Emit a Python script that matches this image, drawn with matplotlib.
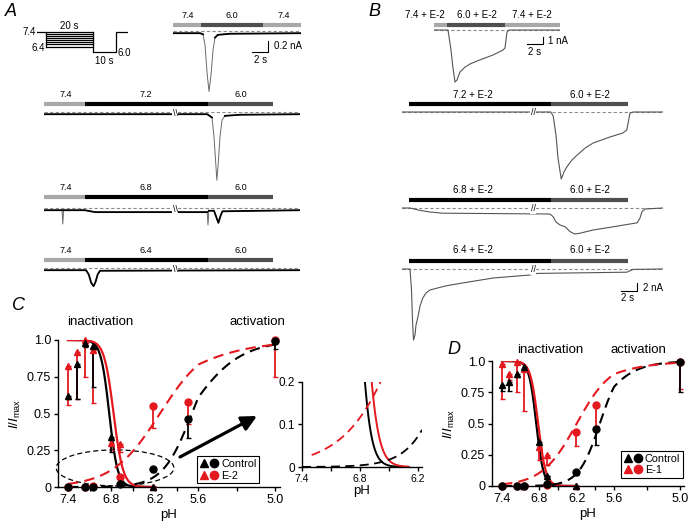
import numpy as np
import matplotlib.pyplot as plt
from matplotlib.patches import Ellipse
from matplotlib.lines import Line2D
from matplotlib.legend_handler import HandlerTuple

plt.rcParams['font.family'] = ['Liberation Sans', 'DejaVu Sans']
plt.rcParams['mathtext.fontset'] = 'custom'
plt.rcParams['mathtext.rm'] = 'Liberation Sans'
plt.rcParams['mathtext.it'] = 'Liberation Sans:italic'

W, H = 688, 525
LIGHT = '#a8a8a8'
DARK = '#4f4f4f'
RED = '#e3191f'
TRACE = '#555555'

# ---------------- data: protocol (s, pH)
prot_cond = [7.4, 7.26, 7.11, 6.97, 6.83, 6.69, 6.54, 6.4]
prot_test = 6.0

# ---------------- data: panel A traces (time s, current nA)
a1_t = [0, 3.4, 3.75, 4.0, 4.25, 4.5, 4.75, 5.0, 5.25, 5.6, 7.1, 16.0]
a1_i = [-0.04, -0.04, -0.06, -0.25, -0.75, -1.1, -0.8, -0.35, -0.12, -0.07, -0.05, -0.04]
a2_t = [0, 20.4, 21.0, 21.25, 21.5, 21.6, 21.75, 22.0, 22.25, 22.6, 24.5, 32]
a2_i = [-0.04, -0.04, -0.1, -0.45, -1.0, -1.24, -1.0, -0.45, -0.15, -0.07, -0.05, -0.04]
a3_t = [0, 2.25, 2.35, 2.45, 5.1, 6.4, 20.4, 20.5, 20.6, 21.25, 21.5, 21.8, 22.05, 22.3, 32]
a3_i = [-0.04, -0.04, -0.29, -0.04, -0.04, -0.075, -0.075, -0.31, -0.05, -0.05, -0.15, -0.27, -0.15, -0.06, -0.04]
a4_t = [0, 5.25, 5.6, 5.9, 6.2, 6.45, 6.7, 7.0, 32]
a4_i = [-0.04, -0.04, -0.12, -0.27, -0.33, -0.25, -0.12, -0.05, -0.04]

# ---------------- data: panel B traces (time s, current nA)
b1_t = [0, 1.75, 2.125, 2.375, 2.625, 2.875, 3.25, 3.875, 4.5, 5.375, 6.375, 7.375, 8.625, 8.875, 9.125, 9.375, 15.75]
b1_i = [0, 0, -2.86, -5.43, -7.43, -7.14, -6.0, -5.29, -4.86, -4.43, -4.0, -3.57, -2.86, -2.57, -0.29, 0, 0]
b2_t = [0, 18.6, 18.9, 19.25, 19.5, 19.9, 20.25, 20.6, 21.25, 21.9, 22.9, 23.9, 26.0, 27.6, 28.1, 28.5, 28.9, 32.6]
b2_i = [0, 0, -1, -5.75, -11.5, -16.75, -15, -13.75, -12, -10.75, -9, -7.75, -6.25, -5.25, -4.5, -0.25, 0, 0]
b3_t = [0, 1.0, 2.25, 3.5, 5.1, 18.5, 18.9, 19.25, 19.75, 20.4, 21.0, 21.6, 22.25, 23.9, 26.4, 29.4, 29.75, 30.0, 30.4, 32.6]
b3_i = [0, 0, -0.6, -1.0, -1.3, -1.5, -2.2, -3.5, -4.25, -4.7, -5.9, -6.5, -6.3, -5.5, -4.7, -3.7, -2.5, -0.9, -0.25, 0]
b4_t = [0, 1.0, 1.19, 1.31, 1.44, 1.625, 1.75, 2.0, 2.25, 2.6, 3.0, 3.5, 5.4, 7.25, 11.4, 16.0, 16.9, 28.1, 28.9, 32.6]
b4_i = [0, 0, -5.25, -12.75, -17.75, -16.5, -14, -11.9, -9.25, -7.25, -6, -5.25, -4.25, -3.6, -2.25, -1.5, -1.1, -0.8, -0.1, 0]

# ---------------- data: panels C / D
ph_inact = [7.4, 7.28, 7.16, 7.05, 6.8, 6.68, 6.22]
c_ph_act = [7.4, 7.16, 7.05, 6.68, 6.22, 5.74, 5.0]
d_ph_act = [7.4, 7.16, 7.05, 6.68, 6.22, 5.89, 5.0]

c_ctrl_inact = [0.62, 0.84, 0.98, 0.96, 0.34, 0.03, 0.0]
c_ctrl_inact_err = [0.02, 0.24, 0.03, 0.28, 0.10, 0.0, 0.0]
c_e2_inact = [0.82, 0.92, 1.0, 0.93, 0.30, 0.29, 0.0]
c_e2_inact_err = [0.26, 0.32, 0.25, 0.36, 0.05, 0.05, 0.0]
c_ctrl_act = [0.0, 0.0, 0.0, 0.02, 0.12, 0.46, 0.99]
c_ctrl_act_err = [0.0, 0.0, 0.0, 0.0, 0.02, 0.13, 0.05]
c_e2_act = [0.0, 0.0, 0.01, 0.07, 0.55, 0.58, 1.0]
c_e2_act_err = [0.0, 0.0, 0.0, 0.0, 0.15, 0.15, 0.25]

d_ctrl_inact = [0.81, 0.83, 0.90, 0.95, 0.35, 0.08, 0.0]
d_ctrl_inact_err = [0.05, 0.07, 0.03, 0.03, 0.05, 0.0, 0.0]
d_e1_inact = [0.98, 0.90, 0.99, 0.94, 0.31, 0.25, 0.0]
d_e1_inact_err = [0.28, 0.05, 0.24, 0.34, 0.10, 0.08, 0.0]
d_ctrl_act = [0.0, 0.0, 0.0, 0.02, 0.11, 0.46, 0.99]
d_ctrl_act_err = [0.0, 0.0, 0.0, 0.0, 0.02, 0.13, 0.24]
d_e1_act = [0.0, 0.0, 0.0, 0.01, 0.43, 0.65, 0.99]
d_e1_act_err = [0.0, 0.0, 0.0, 0.0, 0.11, 0.17, 0.21]

# Boltzmann fit parameters (pH50, slope)
c_fit = {'ctrl_inact': (6.83, 0.058), 'e_inact': (6.77, 0.065),
         'ctrl_act': (5.69, 0.2), 'e_act': (6.13, 0.33)}
d_fit = {'ctrl_inact': (6.85, 0.058), 'e_inact': (6.82, 0.062),
         'ctrl_act': (5.83, 0.17), 'e_act': (6.2, 0.28)}

ph_ticks = [7.4, 6.8, 6.2, 5.6, 5.0]


def box(x0, y0, x1, y1):
    return [x0 / W, 1 - y1 / H, (x1 - x0) / W, (y1 - y0) / H]


fig = plt.figure(figsize=(6.88, 5.25), dpi=100)


def trace_axes(x0, x1, zero_y, px_per_nA, top=40, bottom=80):
    ax = fig.add_axes(box(x0, zero_y - top, x1, zero_y + bottom))
    ax.set_xlim(0, (x1 - x0) / 8.0)
    ax.set_ylim(-bottom / px_per_nA, top / px_per_nA)
    ax.axis('off')
    return ax


def bars(ax, segs, y):
    for t0, t1, c in segs:
        ax.plot([t0, t1], [y, y], color=c, lw=3.0, solid_capstyle='butt')


def labels(ax, items, y, fs=7):
    for t, s in items:
        ax.text(t, y, s, ha='center', va='center', fontsize=fs)


def zero_line(ax, t1):
    ax.plot([0, t1], [0, 0], color='#8c8c8c', lw=0.8, ls=(0, (3, 2)))


def a_trace(ax, t, i, thr):
    t = np.array(t); i = np.array(i)
    ax.plot(t, i, color='#6a6a6a', lw=0.7)
    ax.plot(t, np.where(np.abs(i) < thr, i, np.nan), color='k', lw=1.3)


def brk(ax, t, y, s):
    ax.text(t, y, s, ha='center', va='center', fontsize=6.5,
            bbox=dict(fc='white', ec='none', pad=0.2))


# ---------------- panel A
fig.text(5 / W, 1 - 12 / H, 'A', fontsize=13, style='italic', va='center')

pax = fig.add_axes(box(37, 25, 128, 60))
pax.axis('off')
pax.set_xlim(0, 39)
pax.set_ylim(7.4 - 28 / 14.5, 7.4 + 7 / 14.5)
for lvl in prot_cond:
    pax.plot([4, 24], [lvl, lvl], color='k', lw=0.9)
pax.plot([0, 4, 4], [7.4, 7.4, min(prot_cond)], color='k', lw=0.9)
pax.plot([24, 24, 34, 34, 39], [7.4, prot_test, prot_test, 7.4, 7.4], color='k', lw=0.9)
pax.text(-0.4, 7.4, '7.4', ha='right', va='center', fontsize=7)
pax.text(3.4, 6.3, '6.4', ha='right', va='center', fontsize=7)
pax.text(14, 7.82, '20 s', ha='center', va='center', fontsize=7)
pax.text(29, 5.37, '10 s', ha='center', va='center', fontsize=7)
pax.text(34.6, 5.97, '6.0', ha='left', va='center', fontsize=7)

ax = trace_axes(173, 301, 31, 55.0, top=25, bottom=70)
zero_line(ax, 16)
bars(ax, [(0, 3.5, LIGHT), (3.5, 11.25, DARK), (11.25, 16, LIGHT)], 0.11)
labels(ax, [(1.9, '7.4'), (7.4, '6.0'), (13.9, '7.4')], 0.29, fs=6.5)
a_trace(ax, a1_t, a1_i, 0.15)
ax.plot([9.9, 11.9, 11.9], [-0.38, -0.38, -0.18], color='k', lw=0.8)
ax.text(12.6, -0.27, '0.2 nA', ha='left', va='center', fontsize=7)
ax.text(10.9, -0.53, '2 s', ha='center', va='center', fontsize=7)

bar_segs_a = [(0, 5.1, LIGHT), (5.1, 20.5, 'k'), (20.5, 28.6, DARK)]
for zero_y, cond, tr_t, tr_i, thr, bar_y, lab_y in [
        (112, '7.2', a2_t, a2_i, 0.15, 0.145, 0.31),
        (208, '6.8', a3_t, a3_i, 0.28, 0.2, 0.38),
        (268, '6.4', a4_t, a4_i, 0.4, 0.145, 0.31)]:
    ax = trace_axes(44, 300, zero_y, 55.0, top=25, bottom=72)
    zero_line(ax, 32)
    bars(ax, bar_segs_a, bar_y)
    labels(ax, [(2.75, '7.4'), (12.75, cond), (24.6, '6.0')], lab_y, fs=6.5)
    a_trace(ax, tr_t, tr_i, thr)
    brk(ax, 16.4, -0.02, '\\\\')

# ---------------- panel B
fig.text(368 / W, 1 - 11 / H, 'B', fontsize=13, style='italic', va='center')

ax = trace_axes(434, 560, 30, 7.0, top=25, bottom=60)
zero_line(ax, 15.75)
bars(ax, [(0, 1.625, LIGHT), (1.625, 8.875, DARK), (8.875, 15.75, LIGHT)], 0.71)
labels(ax, [(-1.1, '7.4 + E-2'), (5.4, '6.0 + E-2'), (12.25, '7.4 + E-2')], 2.14)
ax.plot(b1_t, b1_i, color=TRACE, lw=0.8)
ax.plot([11.6, 13.6, 13.6], [-2.0, -2.0, -1.0], color='k', lw=0.8)
ax.text(14.3, -1.57, '1 nA', ha='left', va='center', fontsize=7)
ax.text(12.6, -3.14, '2 s', ha='center', va='center', fontsize=7)

bar_segs_b = [(0.875, 18.6, 'k'), (18.6, 28.25, DARK)]
b_axes = []
for zero_y, cond, tr_t, tr_i, bar_y, lab_y in [
        (112, '7.2 + E-2', b2_t, b2_i, 2.0, 4.25),
        (208, '6.8 + E-2', b3_t, b3_i, 2.1, 4.5),
        (269, '6.4 + E-2', b4_t, b4_i, 2.0, 4.75)]:
    ax = trace_axes(402, 663, zero_y, 4.0, top=25, bottom=75)
    zero_line(ax, 32.6)
    bars(ax, bar_segs_b, bar_y)
    labels(ax, [(8.9, cond), (23.5, '6.0 + E-2')], lab_y)
    ax.plot(tr_t, tr_i, color=TRACE, lw=0.8)
    brk(ax, 16.4, -0.2, '//')
    b_axes.append(ax)
ax = b_axes[-1]
ax.plot([27.4, 29.4, 29.4], [-5.5, -5.5, -3.5], color='k', lw=0.8)
ax.text(30.1, -4.75, '2 nA', ha='left', va='center', fontsize=7)
ax.text(28.25, -7.25, '2 s', ha='center', va='center', fontsize=7)

# ---------------- pH scale (tick spacing as in the figure)
sc_ph = np.array([8.6, 7.4, 6.8, 6.2, 5.6, 5.0, 4.4])
sc_pos = np.array([-0.42, 0.0, 0.21, 0.42, 0.63, 1.0, 1.37])


def fwd(x):
    return -np.interp(-np.asarray(x, float), -sc_ph, sc_pos)


def inv(y):
    return -np.interp(-np.asarray(y, float), sc_pos, -sc_ph)


def boltz_inact(ph, p):
    return 1.0 / (1.0 + np.exp((p[0] - ph) / p[1]))


def boltz_act(ph, p):
    return 1.0 / (1.0 + np.exp((ph - p[0]) / p[1]))


def style_ax(ax, fs=9):
    for s in ('top', 'right'):
        ax.spines[s].set_visible(False)
    for s in ('left', 'bottom'):
        ax.spines[s].set_linewidth(1.0)
    ax.tick_params(direction='out', length=3, width=1.0, labelsize=fs, pad=2)


def pts(ax, x, y, err, color, marker):
    low = np.array(err)
    ax.errorbar(x, y, yerr=[low, np.zeros_like(low)], fmt='none', ecolor=color,
                elinewidth=1.3, capsize=1.8, capthick=1.0, clip_on=False, zorder=3)
    ax.plot(x, y, marker, color=color, ms=5, ls='none', clip_on=False, zorder=4)


def sigmoid_panel(rect, xl, ph_act, data, fit, ecolor):
    ax = fig.add_axes(rect)
    ax.set_xscale('function', functions=(fwd, inv))
    ax.set_xlim(*xl)
    ax.set_ylim(0, 1.0)
    style_ax(ax)
    ph_i = np.linspace(7.4, 6.2, 200)
    ph_a = np.linspace(7.4, 5.0, 300)
    ax.plot(ph_i, boltz_inact(ph_i, fit['ctrl_inact']), color='k', lw=1.6)
    ax.plot(ph_i, boltz_inact(ph_i, fit['e_inact']), color=ecolor, lw=1.6)
    ax.plot(ph_a, boltz_act(ph_a, fit['ctrl_act']), color='k', lw=1.5, ls=(0, (5, 3)))
    ax.plot(ph_a, boltz_act(ph_a, fit['e_act']), color=ecolor, lw=1.5, ls=(0, (5, 3)))
    ci, cie, ei, eie, ca, cae, ea, eae = data
    pts(ax, ph_act, ea, eae, ecolor, 'o')
    pts(ax, ph_act, ca, cae, 'k', 'o')
    pts(ax, ph_inact, ei, eie, ecolor, '^')
    pts(ax, ph_inact, ci, cie, 'k', '^')
    ax.set_xticks(ph_ticks)
    ax.set_xticklabels(['%.1f' % v for v in ph_ticks])
    ax.set_xticks([7.1, 6.5, 5.9, 5.3], minor=True)
    ax.tick_params(which='minor', direction='out', length=3, width=1.0)
    ax.set_yticks([0, 0.25, 0.5, 0.75, 1.0])
    ax.set_yticklabels(['0', '0.25', '0.5', '0.75', '1.0'])
    ax.set_xlabel('pH', fontsize=9.5, labelpad=2)
    ax.set_ylabel(r'$I/I_{\rm max}$', fontsize=9.5, labelpad=3)
    return ax


def legend(ax, elabel, anchor, loc):
    h1 = (Line2D([], [], marker='^', color='k', ls='none', ms=6),
          Line2D([], [], marker='o', color='k', ls='none', ms=6))
    h2 = (Line2D([], [], marker='^', color=RED, ls='none', ms=6),
          Line2D([], [], marker='o', color=RED, ls='none', ms=6))
    lg = ax.legend([h1, h2], ['Control', elabel], loc=loc, bbox_to_anchor=anchor,
                   handler_map={tuple: HandlerTuple(ndivide=None, pad=0.1)},
                   fontsize=7.8, frameon=True, fancybox=False, framealpha=1,
                   edgecolor='k', handlelength=1.8, handletextpad=0.2,
                   borderpad=0.25, labelspacing=0.15, borderaxespad=0)
    lg.get_frame().set_linewidth(0.8)


# ---------------- panel C
fig.text(12 / W, 1 - 305 / H, 'C', fontsize=13, style='italic', va='center')
fig.text(100 / W, 1 - 322 / H, 'inactivation', fontsize=9.5, ha='center', va='center')
fig.text(257 / W, 1 - 322 / H, 'activation', fontsize=9.5, ha='center', va='center')
cax = sigmoid_panel(box(58, 340, 280, 487), (7.537, 4.961), c_ph_act,
                    (c_ctrl_inact, c_ctrl_inact_err, c_e2_inact, c_e2_inact_err,
                     c_ctrl_act, c_ctrl_act_err, c_e2_act, c_e2_act_err), c_fit, RED)
legend(cax, 'E-2', (0.625, 0.025), 'lower left')
cax.add_patch(Ellipse((0.257, 0.13), 0.53, 0.245, transform=cax.transAxes,
                      fill=False, ec='k', lw=0.9, ls=(0, (4, 2.5)), clip_on=False))
cax.annotate('', xy=(257 / W, 1 - 416 / H), xytext=(180 / W, 1 - 457 / H),
             xycoords='figure fraction', textcoords='figure fraction',
             arrowprops=dict(arrowstyle='-|>,head_length=0.9,head_width=0.45',
                             color='k', lw=2.3, shrinkA=0, shrinkB=0))

iax = fig.add_axes(box(302, 381.7, 422, 467))
style_ax(iax, fs=8.5)
iax.set_xlim(7.4, 6.16)
iax.set_ylim(0, 0.2)
ph_z = np.linspace(7.4, 6.16, 200)
ph_zi = np.linspace(6.9, 6.3, 100)
iax.plot(ph_zi, boltz_inact(ph_zi, c_fit['ctrl_inact']), color='k', lw=1.4)
iax.plot(ph_zi, boltz_inact(ph_zi, c_fit['e_inact']), color=RED, lw=1.4)
iax.plot(ph_z, boltz_act(ph_z, c_fit['ctrl_act']), color='k', lw=1.3, ls=(0, (5, 3)))
ph_ze = np.linspace(7.3, 6.16, 150)
iax.plot(ph_ze, boltz_act(ph_ze, c_fit['e_act']), color=RED, lw=1.3, ls=(0, (5, 3)))
iax.set_xticks([7.4, 6.8, 6.2])
iax.set_xticklabels(['7.4', '6.8', '6.2'], fontsize=7.5)
iax.set_xticks([7.1, 6.5], minor=True)
iax.tick_params(which='minor', direction='out', length=3, width=1.0)
iax.set_yticks([0, 0.1, 0.2])
iax.set_yticklabels(['0', '0.1', '0.2'])
iax.set_xlabel('pH', fontsize=9.5, labelpad=1)

# ---------------- panel D
fig.text(447 / W, 1 - 350 / H, 'D', fontsize=13, style='italic', va='center')
fig.text(550 / W, 1 - 350 / H, 'inactivation', fontsize=9.5, ha='center', va='center')
fig.text(638 / W, 1 - 350 / H, 'activation', fontsize=9.5, ha='center', va='center')
dax = sigmoid_panel(box(492, 361, 684, 486), (7.56, 4.964), d_ph_act,
                    (d_ctrl_inact, d_ctrl_inact_err, d_e1_inact, d_e1_inact_err,
                     d_ctrl_act, d_ctrl_act_err, d_e1_act, d_e1_act_err), d_fit, RED)
legend(dax, 'E-1', (0.995, 0.065), 'lower right')

fig.savefig('out.png', dpi=100)
